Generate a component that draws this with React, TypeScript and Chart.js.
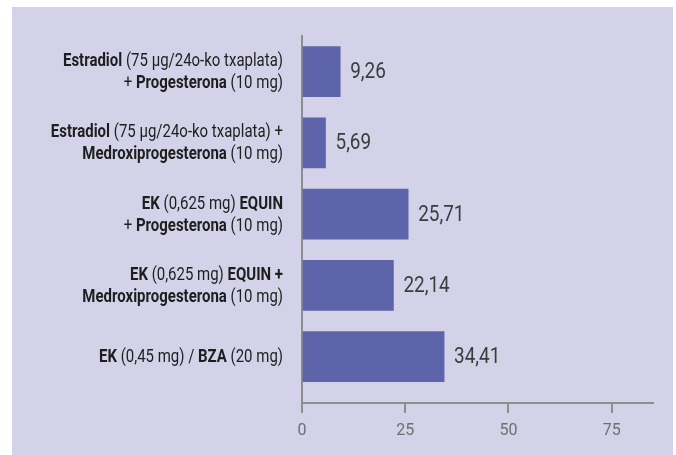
import React, { useEffect, useRef } from "react";
import { Chart, registerables } from "chart.js";

Chart.register(...registerables);

// ---- data ----
const categories: string[][] = [
  ["**Estradiol** (75 µg/24o-ko txaplata)", "+ **Progesterona** (10 mg)"],
  ["**Estradiol** (75 µg/24o-ko txaplata) +", "**Medroxiprogesterona** (10 mg)"],
  ["**EK** (0,625 mg) **EQUIN**", "+ **Progesterona** (10 mg)"],
  ["**EK** (0,625 mg) **EQUIN +**", "**Medroxiprogesterona** (10 mg)"],
  ["**EK** (0,45 mg) / **BZA** (20 mg)"],
];
const values: number[] = [9.26, 5.69, 25.71, 22.14, 34.41];
const xTicks: number[] = [0, 25, 50, 75];
const xMax = 85;

const FONT = 'Roboto, "Liberation Sans", sans-serif';
const PANEL = "#d3d2e8";
const BAR = "#5d64a9";
const AXIS = "#8e8e8e";
// horizontal condensation to mimic the condensed face of the original
const LABEL_TARGET_W = 220; // width of the first category line in the original
const VALUE_SCALE = 0.86;

function parseSegs(line: string): { t: string; b: boolean }[] {
  const parts = line.split("**");
  const segs: { t: string; b: boolean }[] = [];
  parts.forEach((p, i) => {
    if (p.length) segs.push({ t: p, b: i % 2 === 1 });
  });
  return segs;
}

const bgPlugin = {
  id: "bgPanel",
  beforeDraw(chart: any) {
    const { ctx, width, height } = chart;
    ctx.save();
    ctx.fillStyle = "#ffffff";
    ctx.fillRect(0, 0, width, height);
    ctx.fillStyle = PANEL;
    ctx.fillRect(12, 7, 661, height - 7);
    ctx.restore();
  },
};

function lineWidth(ctx: CanvasRenderingContext2D, line: string) {
  const segs = parseSegs(line);
  const widths = segs.map((s) => {
    ctx.font = `${s.b ? "bold " : ""}18px ${FONT}`;
    return ctx.measureText(s.t).width;
  });
  return { segs, widths, total: widths.reduce((a, b) => a + b, 0) };
}

const labelsPlugin = {
  id: "richLabels",
  afterDatasetsDraw(chart: any) {
    const { ctx } = chart;
    const yScale = chart.scales.y;
    const meta = chart.getDatasetMeta(0);
    ctx.save();
    // value labels
    ctx.textBaseline = "middle";
    ctx.textAlign = "left";
    ctx.fillStyle = "#3c3c3c";
    ctx.font = `22px ${FONT}`;
    meta.data.forEach((el: any, i: number) => {
      const txt = values[i].toFixed(2).replace(".", ",");
      ctx.save();
      ctx.translate(el.x + 10, el.y + 1);
      ctx.scale(VALUE_SCALE, 1);
      ctx.fillText(txt, 0, 0);
      ctx.restore();
    });
    // category labels
    const k = LABEL_TARGET_W / lineWidth(ctx, categories[0][0]).total;
    const right = yScale.left + yScale.width - 19;
    const lineH = 22;
    categories.forEach((lines, i) => {
      const cy = yScale.getPixelForValue(i) + 1;
      const startY = cy - ((lines.length - 1) * lineH) / 2;
      lines.forEach((line, li) => {
        const { segs, widths, total } = lineWidth(ctx, line);
        const y = startY + li * lineH;
        ctx.save();
        ctx.translate(right - total * k, y);
        ctx.scale(k, 1);
        let x = 0;
        ctx.fillStyle = "#1e1e1e";
        segs.forEach((s, si) => {
          ctx.font = `${s.b ? "bold " : ""}18px ${FONT}`;
          ctx.fillText(s.t, x, 0);
          x += widths[si];
        });
        ctx.restore();
      });
    });
    ctx.restore();
  },
};

export default function App() {
  const ref = useRef<HTMLCanvasElement | null>(null);
  useEffect(() => {
    if (!ref.current) return;
    const chart = new Chart(ref.current, {
      type: "bar",
      data: {
        datasets: [
          {
            data: values.map((v, i) => ({ x: v, y: i })) as any,
            backgroundColor: BAR,
            barThickness: 50,
            borderWidth: 0,
          },
        ],
      },
      options: {
        indexAxis: "y",
        responsive: false,
        animation: false,
        layout: { padding: { top: 36, right: 23, left: 0, bottom: 0 } },
        plugins: { legend: { display: false }, tooltip: { enabled: false } },
        scales: {
          x: {
            type: "linear",
            min: 0,
            max: xMax,
            position: "bottom",
            afterBuildTicks: (s: any) => {
              s.ticks = xTicks.map((v) => ({ value: v }));
            },
            ticks: {
              color: "#6f6f6f",
              font: { family: FONT, size: 16 },
              padding: 8,
            },
            grid: {
              display: true,
              drawOnChartArea: false,
              drawTicks: true,
              tickLength: 10,
              color: AXIS,
              lineWidth: 2,
            },
            border: { display: true, color: AXIS, width: 2 },
            afterFit: (s: any) => {
              s.height = 52;
            },
          },
          y: {
            type: "linear",
            reverse: true,
            offset: false,
            min: -0.5,
            max: 4.65,
            position: "left",
            ticks: { display: false },
            grid: { display: true, offset: false, drawOnChartArea: false, drawTicks: false, color: AXIS, lineWidth: 2 },
            border: { display: true, color: AXIS, width: 2 },
            afterFit: (s: any) => {
              s.width = 302;
            },
          },
        },
      } as any,
      plugins: [bgPlugin, labelsPlugin],
    });
    return () => chart.destroy();
  }, []);
  return (
    <div style={{ position: "absolute", left: 0, top: 0, width: 676, height: 455 }}>
      <canvas ref={ref} width={676} height={455} />
    </div>
  );
}
